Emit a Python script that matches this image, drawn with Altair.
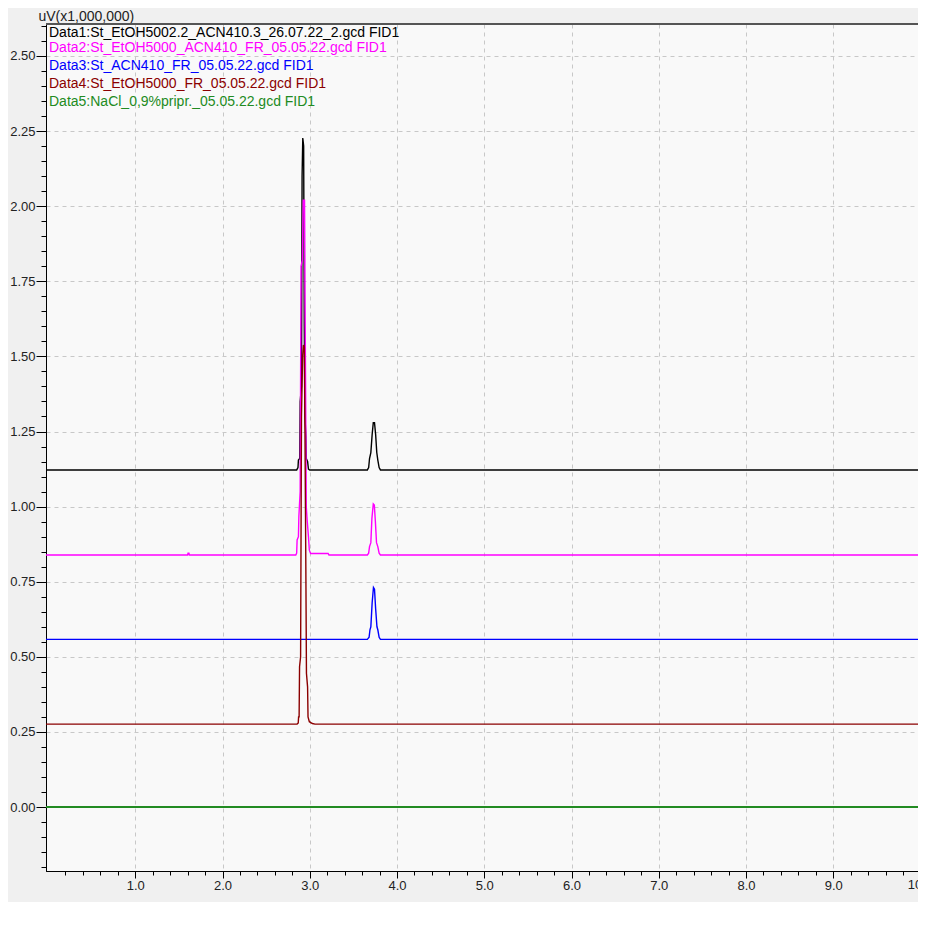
import altair as alt
import pandas as pd

# ---------------- data ----------------
SERIES = ["Data1", "Data2", "Data3", "Data4", "Data5"]
LABELS = [
    "Data1:St_EtOH5002.2_ACN410.3_26.07.22_2.gcd FID1",
    "Data2:St_EtOH5000_ACN410_FR_05.05.22.gcd FID1",
    "Data3:St_ACN410_FR_05.05.22.gcd FID1",
    "Data4:St_EtOH5000_FR_05.05.22.gcd FID1",
    "Data5:NaCl_0,9%pripr._05.05.22.gcd FID1",
]
COLORS = ["#000000", "#ff00ff", "#0000ff", "#8b0000", "#228b22"]
WIDTHS = [1.4, 1.4, 1.4, 1.4, 2.0]

# retention time (min) / signal (uV x 1,000,000)
d1_t = [-0.023, 2.850, 2.865, 2.870, 2.885, 2.890, 2.905, 2.912, 2.920, 2.930, 2.937, 2.945,
        2.955, 2.960, 2.975, 2.985, 3.000,
        3.660, 3.675, 3.685, 3.700, 3.715, 3.728, 3.742, 3.755, 3.768, 3.780, 3.795, 3.810, 10.0]
d1_v = [1.122, 1.122, 1.130, 1.155, 1.160, 1.350, 1.400, 2.100, 2.227, 2.200, 1.600, 1.300,
        1.235, 1.160, 1.150, 1.125, 1.122,
        1.122, 1.130, 1.160, 1.180, 1.240, 1.279, 1.279, 1.240, 1.180, 1.155, 1.130, 1.122, 1.122]

d2_t = [-0.023, 1.600, 1.605, 1.615, 1.620,
        2.840, 2.850, 2.855, 2.870, 2.875, 2.890, 2.900, 2.915, 2.925, 2.940, 2.950, 2.960,
        2.970, 2.985, 2.995, 3.010, 3.210, 3.220,
        3.660, 3.675, 3.685, 3.700, 3.712, 3.728, 3.740, 3.752, 3.765, 3.780, 3.795, 3.810, 10.0]
d2_v = [0.839, 0.839, 0.845, 0.845, 0.839,
        0.839, 0.845, 0.889, 0.900, 0.966, 1.050, 1.800, 1.820, 2.020, 2.020, 1.500, 1.000,
        0.955, 0.900, 0.855, 0.844, 0.844, 0.839,
        0.839, 0.845, 0.867, 0.880, 0.960, 1.009, 1.005, 0.950, 0.880, 0.867, 0.845, 0.839, 0.839]

d3_t = [-0.023, 3.660, 3.680, 3.690, 3.700, 3.715, 3.730, 3.742, 3.755, 3.770, 3.780, 3.795, 3.810, 10.0]
d3_v = [0.558, 0.558, 0.565, 0.590, 0.600, 0.680, 0.731, 0.725, 0.660, 0.600, 0.590, 0.565, 0.558, 0.558]

d4_t = [-0.023, 2.855, 2.868, 2.872, 2.878, 2.883, 2.895, 2.905, 2.918, 2.928, 2.938, 2.945,
        2.955, 2.962, 2.975, 2.980, 2.995, 3.030, 3.060, 10.0]
d4_v = [0.276, 0.276, 0.280, 0.300, 0.300, 0.467, 0.500, 1.300, 1.500, 1.538, 1.530, 1.250,
        0.800, 0.445, 0.400, 0.300, 0.284, 0.278, 0.276, 0.276]

d5_t = [-0.023, 10.0]
d5_v = [0.0, 0.0]

X_MAJOR = [1.0, 2.0, 3.0, 4.0, 5.0, 6.0, 7.0, 8.0, 9.0]
Y_MAJOR = [0.0, 0.25, 0.5, 0.75, 1.0, 1.25, 1.5, 1.75, 2.0, 2.25, 2.5]
X_MINOR = [round(i * 0.2, 1) for i in range(1, 50)]
Y_MINOR = [round(-0.20 + i * 0.05, 2) for i in range(0, 57)]

# ---------------- build table ----------------
rows = []
for name, ts, vs, w in zip(SERIES, [d1_t, d2_t, d3_t, d4_t, d5_t],
                           [d1_v, d2_v, d3_v, d4_v, d5_v], WIDTHS):
    for i, (t, v) in enumerate(zip(ts, vs)):
        rows.append({"series": name, "t": t, "v": v, "i": i, "w": w})
df = pd.DataFrame(rows)

W, H = 872, 847
FONT = "Liberation Sans"
xscale = alt.Scale(domain=[-0.023, 9.971], nice=False, zero=False)
yscale = alt.Scale(domain=[-0.213, 2.6065], nice=False, zero=False)
cscale = alt.Scale(domain=SERIES, range=COLORS)

lines = alt.Chart(df).mark_line(clip=True, interpolate="linear").encode(
    x=alt.X("t:Q", scale=xscale, axis=alt.Axis(
        orient="bottom", values=X_MAJOR, format=".1f", title=None,
        tickSize=7, tickColor="#000", domainColor="#000", domainWidth=1,
        labelFont=FONT, labelFontSize=13, labelColor="#222", labelPadding=1,
        grid=True, gridColor="#c8c8c8", gridDash=[4, 4], gridWidth=1)),
    y=alt.Y("v:Q", scale=yscale, axis=alt.Axis(
        orient="left", values=Y_MAJOR, format=".2f",
        title="uV(x1,000,000)", titleAngle=0, titleX=-8, titleY=-8,
        titleAlign="left", titleBaseline="middle", titleFont=FONT,
        titleFontSize=14, titleFontWeight="normal", titleColor="#222",
        tickSize=10, tickColor="#000", domainColor="#000", domainWidth=1,
        labelFont=FONT, labelFontSize=13, labelColor="#222", labelPadding=1,
        grid=True, gridColor="#c8c8c8", gridDash=[4, 4], gridWidth=1)),
    color=alt.Color("series:N", scale=cscale, legend=None),
    strokeWidth=alt.StrokeWidth("w:Q", scale=None),
    order=alt.Order("i:Q"),
)

minor = alt.Chart(df).mark_point(opacity=0).encode(
    x=alt.X("t:Q", scale=xscale, axis=alt.Axis(
        orient="bottom", values=X_MINOR, labels=False, title=None, grid=False,
        tickSize=4, tickColor="#000", domainColor="#000")),
    y=alt.Y("v:Q", scale=yscale, axis=alt.Axis(
        orient="left", values=Y_MINOR, labels=False, title=None, grid=False,
        tickSize=5, tickColor="#000", domainColor="#000")),
)

top_border = alt.Chart(pd.DataFrame({"a": [0]})).mark_rule(
    color="#555555", strokeWidth=2).encode(
    x=alt.value(0), x2=alt.value(W), y=alt.value(0))

ten_label = alt.Chart(pd.DataFrame({"t": [10.0]})).mark_text(
    clip=False, font=FONT, fontSize=13, color="#222", baseline="top", align="center").encode(
    x=alt.X("t:Q", scale=xscale, axis=None), y=alt.value(H + 8), text=alt.value("10.0"))

LEGEND_Y = [8.5, 23.5, 42, 60, 78]
legend_layers = []
for lab, col, yy in zip(LABELS, COLORS, LEGEND_Y):
    legend_layers.append(
        alt.Chart(pd.DataFrame({"a": [0]})).mark_text(
            align="left", baseline="middle", font=FONT, fontSize=14, color=col
        ).encode(x=alt.value(3), y=alt.value(yy), text=alt.value(lab))
    )

chart = alt.layer(lines, minor, top_border, ten_label, *legend_layers).resolve_axis(
    x="independent", y="independent"
).properties(
    width=W, height=H,
    autosize=alt.AutoSizeParams(type="none"),
    padding={"left": 38, "top": 16, "right": 0, "bottom": 31},
    background="#f0f0f0",
).configure_view(fill="#f9f9f9", stroke=None)

chart.save("out.html", embed_options={"renderer": "svg", "actions": False})
